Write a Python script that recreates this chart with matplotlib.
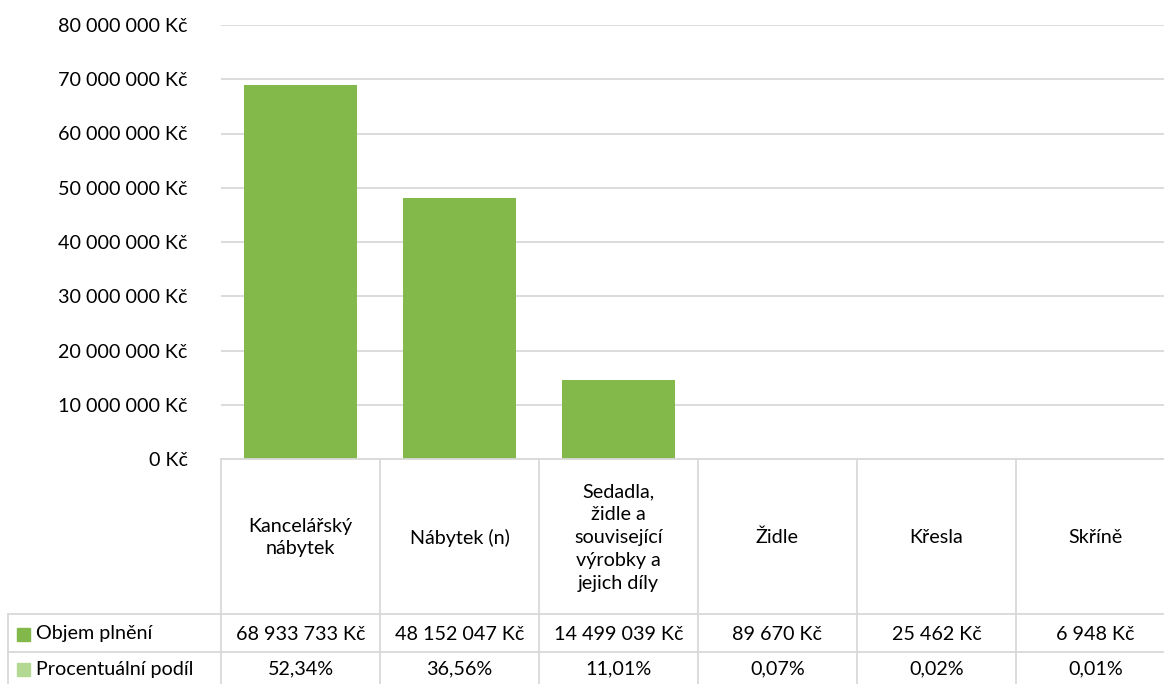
import matplotlib
matplotlib.use("Agg")
import matplotlib.pyplot as plt
from matplotlib.ticker import FuncFormatter

plt.rcParams['font.family'] = ['Lato', 'DejaVu Sans']

categories = ["Kancelářský\nnábytek", "Nábytek (n)", "Sedadla,\nžidle a\nsouvisející\nvýrobky a\njejich díly",
              "Židle", "Křesla", "Skříně"]
values = [68933733, 48152047, 14499039, 89670, 25462, 6948]
value_labels = ["68 933 733 Kč", "48 152 047 Kč", "14 499 039 Kč", "89 670 Kč", "25 462 Kč", "6 948 Kč"]
share_labels = ["52,34%", "36,56%", "11,01%", "0,07%", "0,02%", "0,01%"]
series_names = ["Objem plnění", "Procentuální podíl"]
yticks = [0, 10000000, 20000000, 30000000, 40000000, 50000000, 60000000, 70000000, 80000000]

W, H = 1164, 684
fig = plt.figure(figsize=(W / 100, H / 100), dpi=100)

bar_color = "#83b94a"
light_color = "#b4d993"
grid_color = "#d9d9d9"
fs = 14.2

px_left, px_col = 221, 159
n = len(categories)
px_right = px_left + px_col * n
y_top, y_zero, y_bottom = 25, 459, 684


def fx(p):
    return p / W


def fy(p):
    return 1 - p / H


ax = fig.add_axes([fx(px_left), fy(y_zero), fx(px_right - px_left), (y_zero - y_top) / H])
x = list(range(n))
ax.bar(x, values, width=0.71, color=bar_color, zorder=3)
ax.set_xlim(-0.5, n - 0.5)
ax.set_ylim(0, 80000000)
ax.set_yticks(yticks)
ax.yaxis.set_major_formatter(FuncFormatter(lambda v, p: f"{int(v):,} Kč".replace(",", " ")))
ax.tick_params(axis='y', length=0, pad=24, labelsize=fs)
ax.set_xticks([])
ax.grid(axis='y', color=grid_color, linewidth=1.3, zorder=0)
for s in ax.spines.values():
    s.set_visible(False)

# data table axes (pixel coordinates in y, category units in x)
px_tab_left = 8
tx0 = -0.5 - (px_left - px_tab_left) / px_col
tab = fig.add_axes([fx(px_tab_left), 0, fx(px_right - px_tab_left), (y_bottom - y_zero) / H])
tab.set_xlim(tx0, n - 0.5)
tab.set_ylim(y_bottom, y_zero)
tab.axis('off')

row1, row2 = 614, 652
lw = 1.3
tab.plot([-0.5, n - 0.5], [y_zero, y_zero], color=grid_color, lw=lw, clip_on=False)
for yy in (row1, row2):
    tab.plot([tx0, n - 0.5], [yy, yy], color=grid_color, lw=lw, clip_on=False)
tab.plot([tx0, tx0], [row1, y_bottom], color=grid_color, lw=lw, clip_on=False)
for i in range(n + 1):
    tab.plot([i - 0.5, i - 0.5], [y_zero, y_bottom], color=grid_color, lw=lw, clip_on=False)

for i, c in enumerate(categories):
    tab.text(i, (y_zero + row1) / 2 + 1, c, ha='center', va='center', fontsize=fs, linespacing=1.42)
    tab.text(i, (row1 + row2) / 2 + 1, value_labels[i], ha='center', va='center', fontsize=fs)
    tab.text(i, (row2 + y_bottom) / 2 + 1, share_labels[i], ha='center', va='center', fontsize=fs)

# legend keys in table rows
key_w = 13 / px_col
key_x = tx0 + (17 - px_tab_left) / px_col
for (y0, y1), name, col in [((row1, row2), series_names[0], bar_color),
                            ((row2, y_bottom), series_names[1], light_color)]:
    yc = (y0 + y1) / 2 + 1
    tab.add_patch(plt.Rectangle((key_x, yc - 6.5), key_w, 13, color=col, clip_on=False))
    tab.text(tx0 + (36 - px_tab_left) / px_col, yc, name, ha='left', va='center', fontsize=fs)

fig.savefig("out.png", dpi=100)
